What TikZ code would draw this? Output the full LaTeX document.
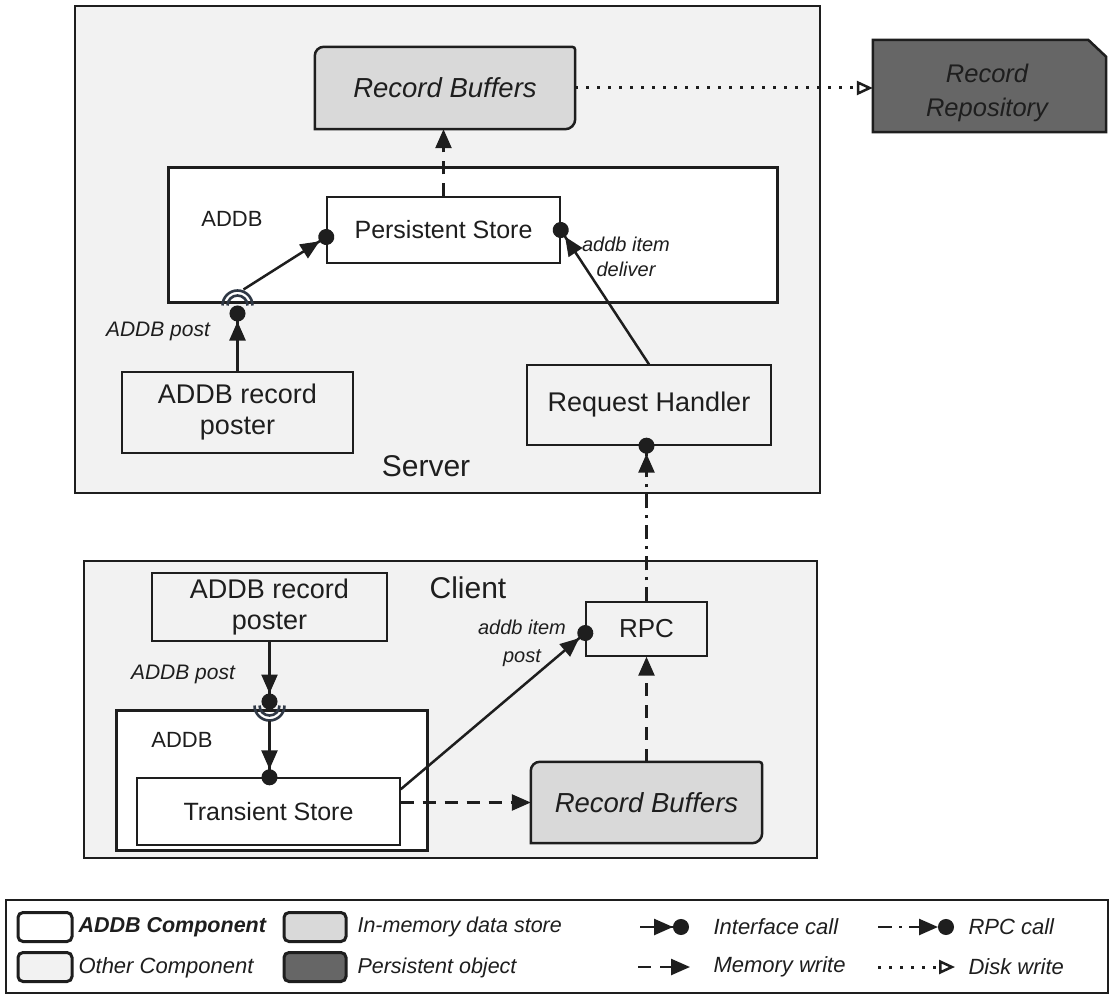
\documentclass[tikz,border=0pt]{standalone}
\usepackage{fontspec}
\setmainfont{Liberation Sans}
\usetikzlibrary{arrows.meta}
\definecolor{bgc}{HTML}{F2F2F2}
\definecolor{memc}{HTML}{D9D9D9}
\definecolor{perc}{HTML}{666666}
\definecolor{linec}{HTML}{1E1E1E}
\definecolor{sockc}{HTML}{2F3845}
\newcommand{\bufshape}[1]{%
  \path[bufline] (#1.south west) -- ([yshift=-9pt]#1.north west)
    arc[start angle=180,end angle=90,radius=9pt]
    -- ([xshift=-3pt]#1.north east)
    arc[start angle=90,end angle=0,radius=3pt]
    -- ([yshift=10pt]#1.south east)
    arc[start angle=0,end angle=-90,radius=10pt] -- cycle;}
\begin{document}
\begin{tikzpicture}[x=1pt,y=-1pt,
  every node/.style={text=linec},
  container/.style={draw=linec, fill=bgc, line width=2.5pt, rectangle, inner sep=0pt},
  addbbox/.style={draw=linec, fill=white, line width=3pt, rectangle, inner sep=0pt},
  compbox/.style={draw=linec, line width=1.4pt, rectangle, inner sep=0pt, align=center,
     font=\fontsize{27}{31}\selectfont},
  acomp/.style={compbox, fill=white, font=\fontsize{25}{31}\selectfont},
  ocomp/.style={compbox, fill=bgc},
  bufnode/.style={rectangle, inner sep=0pt, font=\fontsize{27.5}{31}\selectfont\itshape},
  bufline/.style={draw=linec, fill=memc, line width=2.5pt},
  perline/.style={draw=linec, fill=perc, line width=2.5pt},
  icall/.style={draw=linec, line width=2.5pt,
     -{Triangle[length=19pt,width=16pt]Circle[length=16pt,width=16pt]}, shorten >=-8pt},
  mwrite/.style={draw=linec, line width=2.5pt, dash pattern=on 13pt off 9pt,
     -{Triangle[length=19pt,width=16pt]}},
  rcall/.style={draw=linec, line width=2.5pt, dash pattern=on 14pt off 7pt on 3pt off 7pt,
     -{Triangle[length=19pt,width=16pt]Circle[length=16pt,width=16pt]}, shorten >=-8pt},
  dwrite/.style={draw=linec, line width=3pt, dash pattern=on 3pt off 8pt,
     -{Triangle[open,fill=white,length=16pt,width=14pt,line width=2.5pt]}},
  sockst/.style={draw=sockc, line width=2.6pt},
  lbl/.style={font=\fontsize{21}{25}\selectfont\itshape, align=center},
  legtxt/.style={font=\fontsize{22}{25}\selectfont\itshape, anchor=west},
  swatch/.style={draw=linec, line width=3pt, rounded corners=5pt, minimum width=54pt,
     minimum height=29pt, inner sep=0pt}
]
\fill[white] (0,0) rectangle (1116,1000);
\useasboundingbox (0,0) rectangle (1116,1000);

% ---------------- Server ----------------
\node[container, minimum width=745pt, minimum height=487pt] (server) at (447.5,249.5) {};
\node[bufnode, minimum width=260pt, minimum height=82pt] (sbuf) at (445,88) {};
\bufshape{sbuf}
\node[bufnode] (sbuftxt) at (sbuf.center) {Record Buffers};
\node[addbbox, minimum width=609pt, minimum height=134pt] (sadb) at (472.5,235) {};
\node[font=\fontsize{22}{26}\selectfont] (sadbl) at (232,219) {ADDB};
\node[acomp, minimum width=233pt, minimum height=66pt] (pstore) at (443.5,230) {Persistent Store};
\node[ocomp, minimum width=231pt, minimum height=81pt] (sposter) at (237.5,412.5) {ADDB record\\poster};
\node[ocomp, minimum width=244pt, minimum height=80pt] (rhand) at (649,405) {Request Handler};
\node[font=\fontsize{30}{34}\selectfont] (srvl) at (426,466) {Server};

% Record repository
\node[rectangle, inner sep=0pt, minimum width=233pt, minimum height=92pt] (repo) at (989.5,86) {};
\path[perline] (repo.south west) -- (repo.north west) -- ([xshift=-18pt]repo.north east)
  -- ([yshift=-17pt]repo.north east) -- (repo.south east) -- cycle;
\node[font=\fontsize{25.5}{34}\selectfont\itshape, align=center] (repotxt) at (987,93) {Record\\Repository};

% server connectors
\coordinate (sock1) at (sposter.north |- sadb.south);
\coordinate (ball1) at ([yshift=-10pt]sock1);
\draw[sockst] ([xshift=15pt,yshift=-2pt]sock1) arc[start angle=0,end angle=180,radius=15pt];
\draw[sockst] ([xshift=10pt,yshift=-2pt]sock1) arc[start angle=0,end angle=180,radius=10pt];
\draw[icall] (sposter.north) -- (ball1);
\coordinate (sockout) at ([shift={(6pt,14pt)}]sock1);
\draw[icall] (sockout) -- ([yshift=-7pt]pstore.west);
\draw[icall] (rhand.north) -- (pstore.east);
\draw[mwrite] (pstore.north) -- (pstore.north |- sbuf.south);
\draw[dwrite] (sbuf.east) -- (sbuf.east -| repo.west);
\node[lbl] (lpost1) at (158,331) {ADDB post};
\node[lbl, font=\fontsize{20}{25}\selectfont\itshape] (ldeliv) at (626,257) {addb item\\deliver};

% ---------------- Client ----------------
\node[container, minimum width=733pt, minimum height=297pt] (client) at (450.5,709.5) {};
\node[font=\fontsize{30}{34}\selectfont] (clil) at (468,588) {Client};
\node[ocomp, minimum width=235pt, minimum height=68pt] (cposter) at (269.5,607) {ADDB record\\poster};
\node[addbbox, minimum width=311pt, minimum height=140pt] (cadb) at (271.5,780) {};
\node[font=\fontsize{22}{26}\selectfont] (cadbl) at (182,740) {ADDB};
\node[acomp, minimum width=263pt, minimum height=67pt] (tstore) at (268.5,811.5) {Transient Store};
\node[ocomp, minimum width=121pt, minimum height=54pt, font=\fontsize{26}{31}\selectfont] (rpc) at (646.5,629) {RPC};
\node[bufnode, minimum width=231pt, minimum height=81pt] (cbuf) at (646.5,802.5) {};
\bufshape{cbuf}
\node[bufnode] (cbuftxt) at (cbuf.center) {Record Buffers};

\coordinate (sock2) at (cposter.south |- cadb.north);
\coordinate (ball2) at ([yshift=7pt]sock2);
\draw[sockst] ([xshift=-15pt,yshift=3pt]sock2) arc[start angle=180,end angle=360,radius=15pt];
\draw[sockst] ([xshift=-10pt,yshift=3pt]sock2) arc[start angle=180,end angle=360,radius=10pt];
\draw[icall] (cposter.south) -- (ball2);
\coordinate (sockin) at ([yshift=-12pt]sock2);
\draw[icall] (sockin) -- (sock2 |- tstore.north);
\draw[icall] ([yshift=-12pt]tstore.north east) -- ([yshift=-4pt]rpc.west);
\draw[mwrite] (tstore.east |- cbuf.west) -- (cbuf.west);
\draw[mwrite] (cbuf.north) -- (cbuf.north |- rpc.south);
\draw[rcall] (rpc.north) -- (rpc.north |- rhand.south);
\node[lbl] (lpost2) at (183,674) {ADDB post};
\node[lbl, font=\fontsize{20}{28}\selectfont\itshape] (litem) at (522,643) {addb item\\post};

% ---------------- Legend ----------------
\node[draw=linec, fill=white, line width=2pt, rectangle, inner sep=0pt,
  minimum width=1102pt, minimum height=93pt] (legend) at (557,946) {};
\node[swatch, fill=white] (sw1) at (45,927) {};
\node[swatch, fill=bgc] (sw2) at (45,967) {};
\node[swatch, fill=memc, minimum width=62pt] (sw3) at (315,927) {};
\node[swatch, fill=perc, minimum width=62pt] (sw4) at (315,967) {};
\node[legtxt, font=\fontsize{21.5}{25}\selectfont\itshape\bfseries] (t1) at (75,927) {ADDB Component};
\node[legtxt] (t2) at (75,968) {Other Component};
\node[legtxt, font=\fontsize{21.5}{25}\selectfont\itshape] (t3) at (354,927) {In-memory data store};
\node[legtxt, font=\fontsize{21.5}{25}\selectfont\itshape] (t4) at (354,968) {Persistent object};
\coordinate (l1a) at (640,927); \coordinate (l1b) at (681,927);
\draw[icall] (l1a) -- (l1b);
\coordinate (l2a) at (638,967); \coordinate (l2b) at (690,967);
\draw[mwrite] (l2a) -- (l2b);
\coordinate (l3a) at (878,927); \coordinate (l3b) at (946,927);
\draw[rcall] (l3a) -- (l3b);
\coordinate (l4a) at (878,967); \coordinate (l4b) at (955,967);
\draw[dwrite] (l4a) -- (l4b);
\node[legtxt] (t5) at (710,927) {Interface call};
\node[legtxt] (t6) at (710,967) {Memory write};
\node[legtxt] (t7) at (965,927) {RPC call};
\node[legtxt] (t8) at (965,967) {Disk write};
\end{tikzpicture}
\end{document}
